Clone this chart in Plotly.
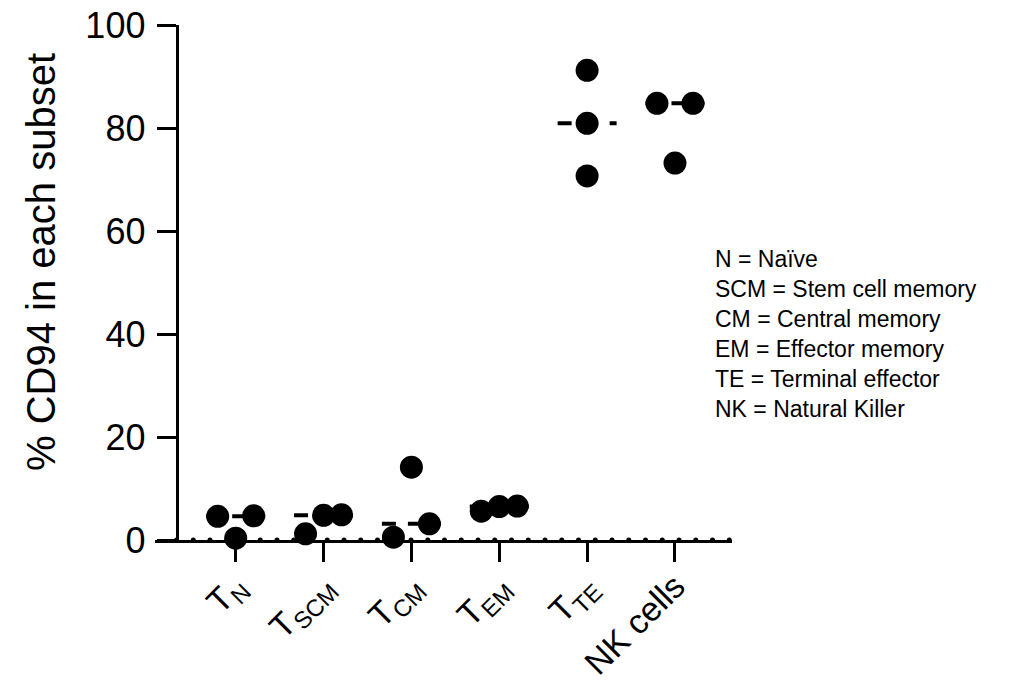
import numpy as np
import plotly.graph_objects as go

# ---------------- data ----------------
categories = ["T_N", "T_SCM", "T_CM", "T_EM", "T_TE", "NK cells"]
tick_labels = ["T<sub>N</sub>", "T<sub>SCM</sub>", "T<sub>CM</sub>",
               "T<sub>EM</sub>", "T<sub>TE</sub>", "NK cells"]
tn_values = [4.6, 0.35, 4.7]
tscm_values = [1.2, 4.8, 4.9]
tcm_values = [0.55, 14.15, 3.15]
tem_values = [5.6, 6.5, 6.6]
tte_values = [91.2, 80.9, 70.7]
nk_values = [84.8, 73.2, 84.8]
y_ticks = [0, 20, 40, 60, 80, 100]
legend_lines = ["N = Naïve", "SCM = Stem cell memory", "CM = Central memory",
                "EM = Effector memory", "TE = Terminal effector", "NK = Natural Killer"]

series = [tn_values, tscm_values, tcm_values, tem_values, tte_values, nk_values]
# side-by-side slots used to avoid overlapping dots (scatter dot plot layout)
slots = [[-1, 0, 1], [-1, 0, 1], [-1, 0, 1], [-1, 0, 1], [0, 0, 0], [-1, 0, 1]]

# ---------------- layout geometry ----------------
W, H = 1020, 691
L, R, T, B = 155, 288, 25, 151
PW, PH = W - L - R, H - T - B
XRANGE = [0.0815, 6.649]
unit_px = PW / (XRANGE[1] - XRANGE[0])
SLOT = 18 / unit_px
HALF_MED = 29.5 / unit_px
YAX_PX = 176.5
yax_pos = (YAX_PX - L) / PW
yax_x = XRANGE[0] + (YAX_PX - L) / unit_px
MINOR = 16.75 / unit_px

def paper_x(px):
    return (px - L) / PW

def paper_y(py):
    return (H - B - py) / PH

FONT = "Liberation Sans, Arial, sans-serif"

fig = go.Figure()

# minor dots along x axis
mx = [yax_x + k * MINOR for k in range(int((XRANGE[1] - yax_x) / MINOR) + 1)]
fig.add_trace(go.Scatter(x=mx, y=[0] * len(mx), mode="markers",
                         marker=dict(size=5, color="black"),
                         cliponaxis=False, hoverinfo="skip", showlegend=False))

# median lines
for i, vals in enumerate(series):
    c = i + 1
    m = float(np.median(vals))
    fig.add_trace(go.Scatter(x=[c - HALF_MED, c + HALF_MED], y=[m, m], mode="lines",
                             line=dict(color="black", width=4, dash="14px,12px"),
                             cliponaxis=False, hoverinfo="skip", showlegend=False))

# points
for i, vals in enumerate(series):
    c = i + 1
    xs = [c + s * SLOT for s in slots[i]]
    fig.add_trace(go.Scatter(x=xs, y=vals, mode="markers", name=categories[i],
                             marker=dict(size=23, color="black"),
                             cliponaxis=False, showlegend=False))

fig.update_layout(
    width=W, height=H,
    margin=dict(l=L, r=R, t=T, b=B, pad=0, autoexpand=False),
    paper_bgcolor="white", plot_bgcolor="white",
    font=dict(family=FONT, color="black"),
    showlegend=False,
    xaxis=dict(range=XRANGE, showgrid=False, zeroline=False, automargin=False,
               showline=True, linecolor="black", linewidth=2.7,
               tickmode="array", tickvals=list(range(1, len(categories) + 1)),
               ticktext=tick_labels, ticks="outside", ticklen=19, tickwidth=3,
               tickcolor="black", tickangle=-45, ticklabelstandoff=-9,
               tickfont=dict(size=34, family=FONT, color="black"),
               layer="below traces"),
    yaxis=dict(range=[0, 100], showgrid=False, zeroline=False, automargin=False,
               showline=True, linecolor="black", linewidth=2.7,
               anchor="free", position=yax_pos,
               tickmode="array", tickvals=y_ticks, ticks="outside",
               ticklen=19, tickwidth=2.7, tickcolor="black",
               tickfont=dict(size=36, family=FONT, color="black"),
               ticklabelstandoff=4, layer="below traces"),
)

fig.add_annotation(text="% CD94 in each subset", textangle=-90,
                   x=paper_x(41), y=paper_y(262), xref="paper", yref="paper",
                   showarrow=False, font=dict(size=40, family=FONT, color="black"),
                   xanchor="center", yanchor="middle")

fig.add_annotation(text="<br>".join(legend_lines), x=paper_x(713), y=paper_y(244),
                   xref="paper", yref="paper", showarrow=False,
                   font=dict(size=23, family=FONT, color="black"),
                   xanchor="left", yanchor="top", align="left")

fig.write_html("out.html")
